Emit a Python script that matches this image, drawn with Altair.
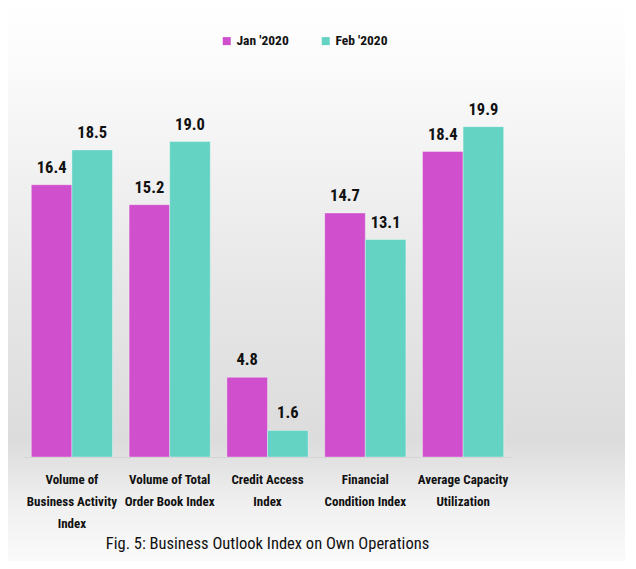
import altair as alt
import pandas as pd

categories = [
    "Volume of|Business Activity|Index",
    "Volume of Total|Order Book Index",
    "Credit Access|Index",
    "Financial|Condition Index",
    "Average Capacity|Utilization",
]
series = ["Jan '2020", "Feb '2020"]
jan_values = [16.4, 15.2, 4.8, 14.7, 18.4]
feb_values = [18.5, 19.0, 1.6, 13.1, 19.9]
colors = ["#CF4FCC", "#64D3C4"]

rows = []
for c, j, f in zip(categories, jan_values, feb_values):
    rows.append({"category": c, "series": series[0], "value": j})
    rows.append({"category": c, "series": series[1], "value": f})
df = pd.DataFrame(rows)

FONT = "Liberation Sans Narrow, Roboto Condensed, Roboto, sans-serif"
W, H = 489, 415

x_enc = alt.X("category:N", sort=categories, title=None,
              scale=alt.Scale(paddingInner=0.17, paddingOuter=0.085),
              axis=alt.Axis(labelExpr="split(datum.label, '|')", labelAngle=0,
                            labelFont=FONT, labelFontSize=13, labelFontWeight="bold",
                            labelColor="#111111", labelLineHeight=22, labelPadding=16,
                            labelBaseline="top", zindex=2,
                            ticks=False, domain=True, domainColor="#d4d4d4"))
y_enc = alt.Y("value:Q", scale=alt.Scale(domain=[0, 25]), axis=None)
xo = alt.XOffset("series:N", sort=series, scale=alt.Scale(paddingInner=0))

bg = alt.Chart(pd.DataFrame({"d": [0]})).mark_rect(
    fill=alt.LinearGradient(
        gradient="linear", x1=0, y1=0, x2=0, y2=1,
        stops=[alt.GradientStop(offset=0.0, color="#ffffff"),
               alt.GradientStop(offset=0.1, color="#fbfbfb"),
               alt.GradientStop(offset=0.5, color="#e6e6e6"),
               alt.GradientStop(offset=0.75, color="#dcdcdc"),
               alt.GradientStop(offset=0.86, color="#f0f0f0"),
               alt.GradientStop(offset=1.0, color="#ffffff")]),
    stroke="#d6d6d6", strokeWidth=2,
).encode(x=alt.value(-16), x2=alt.value(W + 140), y=alt.value(-37), y2=alt.value(H + 130))

bars = alt.Chart(df).mark_bar(stroke="#ffffff", strokeOpacity=0.35, strokeWidth=1).encode(
    x=x_enc, xOffset=xo, y=y_enc,
    color=alt.Color("series:N", sort=series,
                    scale=alt.Scale(domain=series, range=colors),
                    legend=alt.Legend(title=None, orient="none", direction="horizontal",
                                      legendX=197, legendY=-8, symbolType="square",
                                      symbolSize=64, symbolStrokeWidth=0,
                                      labelFont=FONT, labelFontSize=13.5, labelFontWeight="bold",
                                      labelColor="#111111", columnPadding=30, labelOffset=3)),
)

labels = alt.Chart(df).mark_text(baseline="bottom", dy=-9, font=FONT, fontSize=16.5,
                                 fontWeight="bold", color="#111111").encode(
    x=x_enc, xOffset=xo, y=y_enc,
    text=alt.Text("value:Q", format=".1f"),
)

chart = alt.layer(bg, bars, labels).properties(
    width=W, height=H,
    title=alt.TitleParams("Fig. 5: Business Outlook Index on Own Operations",
                          orient="bottom", anchor="middle", font=FONT, fontSize=16.5,
                          fontWeight="normal", color="#111111", offset=0, dy=-52, zindex=2),
    autosize=alt.AutoSizeParams(type="none"),
    padding={"left": 15, "top": 34, "right": 113, "bottom": 104},
).configure_view(stroke=None).configure(background="#ffffff")

chart.save("out.html", embed_options={"renderer": "svg", "actions": False})
